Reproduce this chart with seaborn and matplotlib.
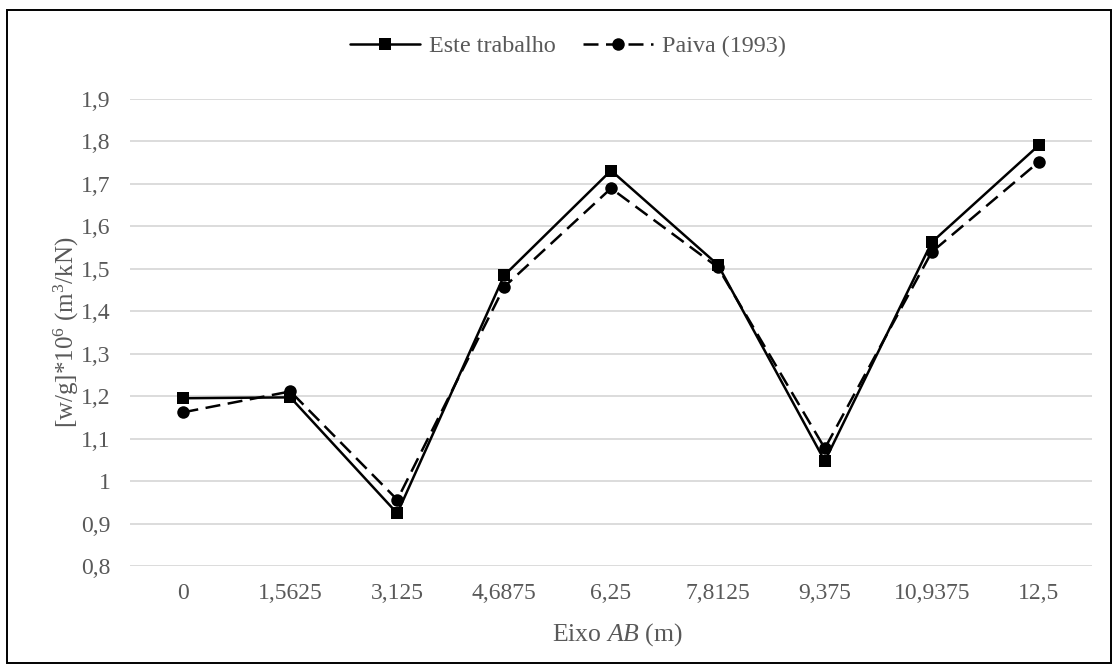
import matplotlib
matplotlib.use("Agg")
import matplotlib.pyplot as plt
import seaborn as sns
import pandas as pd
from matplotlib.patches import Rectangle

# Positions along axis AB (m) and deflection coefficients
x_labels = ["0", "1,5625", "3,125", "4,6875", "6,25", "7,8125", "9,375", "10,9375", "12,5"]
este_trabalho = [1.195, 1.197, 0.924, 1.484, 1.731, 1.509, 1.047, 1.562, 1.790]
paiva_1993 = [1.162, 1.211, 0.956, 1.457, 1.689, 1.503, 1.077, 1.539, 1.751]
series_names = ["Este trabalho", "Paiva (1993)"]
y_ticks = [0.8, 0.9, 1.0, 1.1, 1.2, 1.3, 1.4, 1.5, 1.6, 1.7, 1.8, 1.9]
y_tick_labels = ["0,8", "0,9", "1", "1,1", "1,2", "1,3", "1,4", "1,5", "1,6", "1,7", "1,8", "1,9"]

sns.set_theme(style="white")
plt.rcParams["font.family"] = ["Liberation Serif", "DejaVu Serif"]
plt.rcParams["mathtext.fontset"] = "custom"
plt.rcParams["mathtext.rm"] = "Liberation Serif"
plt.rcParams["mathtext.it"] = "Liberation Serif:italic"

TEXT = "#595959"
GRID = "#d9d9d9"

df = pd.DataFrame({
    "pos": x_labels * 2,
    "valor": este_trabalho + paiva_1993,
    "serie": [series_names[0]] * len(x_labels) + [series_names[1]] * len(x_labels),
})

fig = plt.figure(figsize=(11.18, 6.72), dpi=100)
ax = fig.add_axes([0.1163, 0.1577, 0.8605, 0.6954])

sns.lineplot(
    data=df, x="pos", y="valor", hue="serie", style="serie",
    palette={series_names[0]: "black", series_names[1]: "black"},
    markers={series_names[0]: "s", series_names[1]: "o"},
    dashes={series_names[0]: "", series_names[1]: (6, 3)},
    markersize=9, markeredgewidth=0, linewidth=1.8, sort=False,
    ax=ax, legend=True,
)

ax.set_xlim(-0.5, len(x_labels) - 0.5)
ax.set_ylim(0.8, 1.9)
ax.set_yticks(y_ticks)
ax.set_yticklabels(y_tick_labels)
ax.set_xticks(range(len(x_labels)))
ax.set_xticklabels(x_labels)

ax.yaxis.grid(True, color=GRID, linewidth=1.3)
ax.xaxis.grid(False)
ax.set_axisbelow(True)
for s in ax.spines.values():
    s.set_visible(False)
ax.tick_params(axis="both", length=0, labelsize=17, labelcolor=TEXT)
ax.tick_params(axis="y", pad=14)
ax.tick_params(axis="x", pad=12)

ax.set_xlabel("Eixo $AB$ (m)", fontsize=18.5, color=TEXT)
ax.set_ylabel(r"[w/g]*10$^{6}$ ($\mathrm{m}^{3}$/kN)", fontsize=18, color=TEXT)
ax.xaxis.set_label_coords(0.507, -0.118)
ax.yaxis.set_label_coords(-0.051, 0.5)

handles, labels = ax.get_legend_handles_labels()
ax.legend_.remove()
leg = fig.legend(
    handles, labels, loc="center", bbox_to_anchor=(0.508, 1 - 46 / 672),
    ncol=2, frameon=False, fontsize=17.4, handlelength=2.9,
    columnspacing=1.1, handletextpad=0.4,
)
for t in leg.get_texts():
    t.set_color(TEXT)

fig.patches.append(Rectangle((0.0065, 0.014), 0.987, 0.971, transform=fig.transFigure,
                             fill=False, edgecolor="black", linewidth=1.4))

fig.savefig("out.png", dpi=100, facecolor="white")
